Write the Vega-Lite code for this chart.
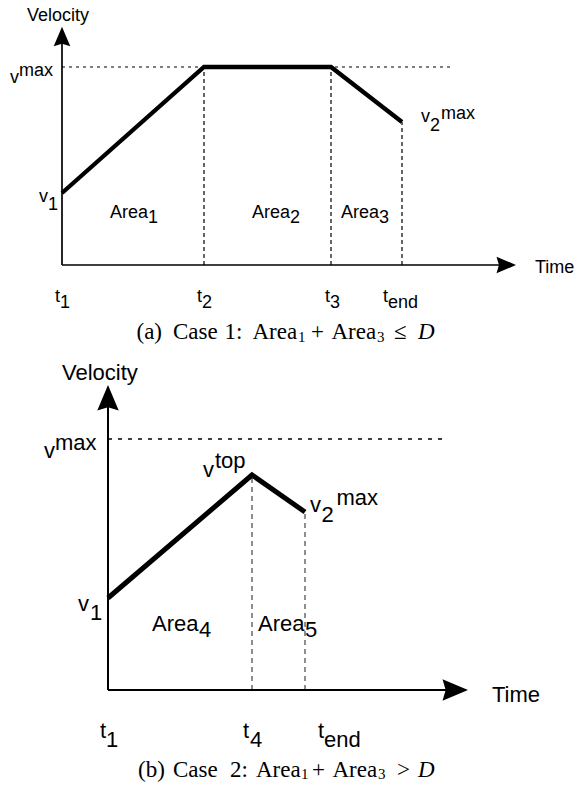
{
  "$schema": "https://vega.github.io/schema/vega-lite/v6.json",
  "padding": 0,
  "spacing": 0,
  "background": "white",
  "config": {"view": {"stroke": null}, "concat": {"spacing": 0}},
  "datasets": {
    "aProfile": [{"t": 0, "v": 72}, {"t": 142, "v": 198}, {"t": 269, "v": 198}, {"t": 340, "v": 143}],
    "aGuides": [
      {"seg": "t2", "t": 142, "v": 0}, {"seg": "t2", "t": 142, "v": 198},
      {"seg": "t3", "t": 269, "v": 0}, {"seg": "t3", "t": 269, "v": 198},
      {"seg": "tend", "t": 340, "v": 0}, {"seg": "tend", "t": 340, "v": 143}
    ],
    "aVmax": [{"t": 0, "v": 198}, {"t": 391, "v": 198}],
    "aAxes": [
      {"seg": "time", "t": 0, "v": 0}, {"seg": "time", "t": 440, "v": 0},
      {"seg": "velocity", "t": 0, "v": 0}, {"seg": "velocity", "t": 0, "v": 225}
    ],
    "aArrowTime": [{"t": 444.25, "v": 0}],
    "aArrowVel": [{"t": 0, "v": 228.5}],
    "aLabels": [
      {"t": -35, "v": 244, "label": "Velocity"},
      {"t": -52, "v": 182, "label": "v"}, {"t": -43, "v": 189, "label": "max"},
      {"t": -23, "v": 63, "label": "v"}, {"t": -14, "v": 55, "label": "1"},
      {"t": 48, "v": 46.7, "label": "Area"}, {"t": 86, "v": 41.7, "label": "1"},
      {"t": 190, "v": 46.7, "label": "Area"}, {"t": 228, "v": 41.7, "label": "2"},
      {"t": 279, "v": 46.7, "label": "Area"}, {"t": 317, "v": 41.7, "label": "3"},
      {"t": 359, "v": 143.3, "label": "v"}, {"t": 368, "v": 134.3, "label": "2"}, {"t": 379, "v": 145.7, "label": "max"},
      {"t": 473, "v": -8.3, "label": "Time"},
      {"t": -7, "v": -36.7, "label": "t"}, {"t": -2, "v": -43.3, "label": "1"},
      {"t": 135, "v": -36.7, "label": "t"}, {"t": 140, "v": -43.3, "label": "2"},
      {"t": 263, "v": -36.7, "label": "t"}, {"t": 268, "v": -43.3, "label": "3"},
      {"t": 321, "v": -36.7, "label": "t"}, {"t": 326, "v": -43.3, "label": "end"}
    ],
    "aCaption": [
      {"t": 74.5, "v": -74.3, "label": "(a)"}, {"t": 111, "v": -74.3, "label": "Case"},
      {"t": 162.5, "v": -74.3, "label": "1:"}, {"t": 190.5, "v": -74.3, "label": "Area"},
      {"t": 249, "v": -74.3, "label": "+"}, {"t": 269.5, "v": -74.3, "label": "Area"},
      {"t": 332, "v": -74.3, "label": "≤"}
    ],
    "aCaptionSub": [{"t": 236, "v": -77, "label": "1"}, {"t": 315, "v": -77, "label": "3"}],
    "aCaptionItalic": [{"t": 356, "v": -74.3, "label": "D"}],
    "bProfile": [{"t": 0, "v": 92}, {"t": 144, "v": 215}, {"t": 197, "v": 178}],
    "bGuides": [
      {"seg": "t4", "t": 144, "v": 0}, {"seg": "t4", "t": 144, "v": 215},
      {"seg": "tend", "t": 197, "v": 0}, {"seg": "tend", "t": 197, "v": 178}
    ],
    "bVmax": [{"t": 0, "v": 251}, {"t": 338, "v": 251}],
    "bAxes": [
      {"seg": "time", "t": 0, "v": 0}, {"seg": "time", "t": 342, "v": 0},
      {"seg": "velocity", "t": 0, "v": 0}, {"seg": "velocity", "t": 0, "v": 288}
    ],
    "bArrowTime": [{"t": 347.25, "v": 0}],
    "bArrowVel": [{"t": 0, "v": 292.25}],
    "bLabels": [
      {"t": -46, "v": 310, "label": "Velocity"},
      {"t": -64, "v": 231.7, "label": "v"}, {"t": -53, "v": 240, "label": "max"},
      {"t": 95, "v": 213.3, "label": "v"}, {"t": 107, "v": 221.7, "label": "top"},
      {"t": 202, "v": 178.3, "label": "v"}, {"t": 213.5, "v": 168.3, "label": "2"}, {"t": 228.5, "v": 185, "label": "max"},
      {"t": -30, "v": 79, "label": "v"}, {"t": -18, "v": 70, "label": "1"},
      {"t": 44, "v": 59.3, "label": "Area"}, {"t": 91, "v": 53.3, "label": "4"},
      {"t": 150, "v": 59.3, "label": "Area"}, {"t": 197, "v": 53.3, "label": "5"},
      {"t": 384, "v": -11.7, "label": "Time"},
      {"t": -8, "v": -48.3, "label": "t"}, {"t": -2, "v": -56.7, "label": "1"},
      {"t": 135, "v": -48.3, "label": "t"}, {"t": 142, "v": -56.7, "label": "4"},
      {"t": 210, "v": -48.3, "label": "t"}, {"t": 216, "v": -56.7, "label": "end"}
    ],
    "bCaption": [
      {"t": 30, "v": -86.7, "label": "(b)"}, {"t": 65, "v": -86.7, "label": "Case"},
      {"t": 122, "v": -86.7, "label": "2:"}, {"t": 148, "v": -86.7, "label": "Area"},
      {"t": 204, "v": -86.7, "label": "+"}, {"t": 224.5, "v": -86.7, "label": "Area"},
      {"t": 289, "v": -86.7, "label": ">"}
    ],
    "bCaptionSub": [{"t": 193, "v": -89, "label": "1"}, {"t": 270, "v": -89, "label": "3"}],
    "bCaptionItalic": [{"t": 310, "v": -86.7, "label": "D"}]
  },
  "vconcat": [
    {
      "width": 578,
      "height": 345,
      "encoding": {
        "x": {"field": "t", "type": "quantitative", "scale": {"domain": [-62, 516], "nice": false, "zero": false}, "axis": null},
        "y": {"field": "v", "type": "quantitative", "scale": {"domain": [-80, 265], "nice": false, "zero": false}, "axis": null}
      },
      "layer": [
        {"data": {"name": "aVmax"}, "mark": {"type": "line", "color": "black", "strokeWidth": 1.2, "strokeDash": [3, 4]}},
        {"data": {"name": "aGuides"}, "mark": {"type": "line", "color": "black", "strokeWidth": 1.2, "strokeDash": [4, 3]}, "encoding": {"detail": {"field": "seg"}}},
        {"data": {"name": "aAxes"}, "mark": {"type": "line", "color": "black", "strokeWidth": 1.7}, "encoding": {"detail": {"field": "seg"}}},
        {"data": {"name": "aProfile"}, "mark": {"type": "line", "color": "black", "strokeWidth": 4.3, "strokeJoin": "miter", "strokeCap": "butt"}},
        {"data": {"name": "aArrowTime"}, "mark": {"type": "point", "shape": "M 1 0 L -1 -0.85 L -0.75 0 L -1 0.85 Z", "filled": true, "color": "black", "opacity": 1, "size": 380, "strokeWidth": 0}},
        {"data": {"name": "aArrowVel"}, "mark": {"type": "point", "shape": "M 1 0 L -1 -0.85 L -0.75 0 L -1 0.85 Z", "filled": true, "color": "black", "opacity": 1, "size": 380, "strokeWidth": 0, "angle": 270}},
        {"data": {"name": "aLabels"}, "mark": {"type": "text", "font": "Liberation Sans", "fontSize": 18, "align": "left", "baseline": "alphabetic", "color": "black"}, "encoding": {"text": {"field": "label"}}},
        {"data": {"name": "aCaption"}, "mark": {"type": "text", "font": "Liberation Serif", "fontSize": 23, "align": "left", "baseline": "alphabetic", "color": "black"}, "encoding": {"text": {"field": "label"}}},
        {"data": {"name": "aCaptionSub"}, "mark": {"type": "text", "font": "Liberation Serif", "fontSize": 15, "align": "left", "baseline": "alphabetic", "color": "black"}, "encoding": {"text": {"field": "label"}}},
        {"data": {"name": "aCaptionItalic"}, "mark": {"type": "text", "font": "Liberation Serif", "fontStyle": "italic", "fontSize": 23, "align": "left", "baseline": "alphabetic", "color": "black"}, "encoding": {"text": {"field": "label"}}}
      ]
    },
    {
      "width": 578,
      "height": 445,
      "encoding": {
        "x": {"field": "t", "type": "quantitative", "scale": {"domain": [-108, 470], "nice": false, "zero": false}, "axis": null},
        "y": {"field": "v", "type": "quantitative", "scale": {"domain": [-100, 345], "nice": false, "zero": false}, "axis": null}
      },
      "layer": [
        {"data": {"name": "bVmax"}, "mark": {"type": "line", "color": "black", "strokeWidth": 1.3, "strokeDash": [4, 6]}},
        {"data": {"name": "bGuides"}, "mark": {"type": "line", "color": "#444", "strokeWidth": 1.2, "strokeDash": [5, 4]}, "encoding": {"detail": {"field": "seg"}}},
        {"data": {"name": "bAxes"}, "mark": {"type": "line", "color": "black", "strokeWidth": 2}, "encoding": {"detail": {"field": "seg"}}},
        {"data": {"name": "bProfile"}, "mark": {"type": "line", "color": "black", "strokeWidth": 5, "strokeJoin": "miter", "strokeCap": "butt"}},
        {"data": {"name": "bArrowTime"}, "mark": {"type": "point", "shape": "M 1 0 L -1 -0.84 L -0.75 0 L -1 0.84 Z", "filled": true, "color": "black", "opacity": 1, "size": 650, "strokeWidth": 0}},
        {"data": {"name": "bArrowVel"}, "mark": {"type": "point", "shape": "M 1 0 L -1 -0.84 L -0.75 0 L -1 0.84 Z", "filled": true, "color": "black", "opacity": 1, "size": 650, "strokeWidth": 0, "angle": 270}},
        {"data": {"name": "bLabels"}, "mark": {"type": "text", "font": "Liberation Sans", "fontSize": 22, "align": "left", "baseline": "alphabetic", "color": "black"}, "encoding": {"text": {"field": "label"}}},
        {"data": {"name": "bCaption"}, "mark": {"type": "text", "font": "Liberation Serif", "fontSize": 23, "align": "left", "baseline": "alphabetic", "color": "black"}, "encoding": {"text": {"field": "label"}}},
        {"data": {"name": "bCaptionSub"}, "mark": {"type": "text", "font": "Liberation Serif", "fontSize": 15, "align": "left", "baseline": "alphabetic", "color": "black"}, "encoding": {"text": {"field": "label"}}},
        {"data": {"name": "bCaptionItalic"}, "mark": {"type": "text", "font": "Liberation Serif", "fontStyle": "italic", "fontSize": 23, "align": "left", "baseline": "alphabetic", "color": "black"}, "encoding": {"text": {"field": "label"}}}
      ]
    }
  ]
}
